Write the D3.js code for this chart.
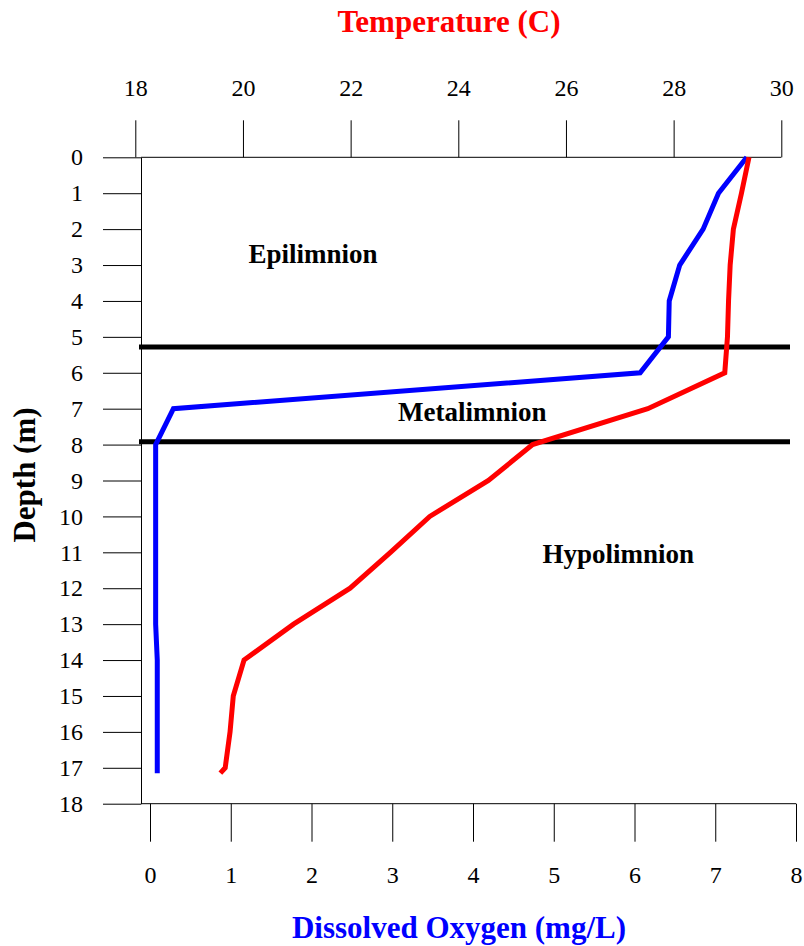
<!DOCTYPE html>
<html>
<head>
<meta charset="utf-8">
<script src="https://cdn.jsdelivr.net/npm/d3@7"></script>
<style>
  body { margin: 0; background: #fff; }
  #chart text { font-family: "Liberation Serif", Tinos, "Times New Roman", Times, "DejaVu Serif", serif !important; }
</style>
</head>
<body>
<div id="chart"></div>
<script>
// profile readings, one entry per depth
const depths      = [0, 1, 2, 3, 4, 5, 6, 7, 8, 9, 10, 11, 12, 13, 14, 15, 16, 17, 17.15]
const oxygen      = [7.39, 7.04, 6.85, 6.56, 6.43, 6.42, 6.07, 0.29, 0.07, 0.07, 0.07, 0.07, 0.07, 0.07, 0.09, 0.09, 0.09, 0.09, 0.09]
const temperature = [29.4, 29.26, 29.11, 29.05, 29.02, 29.0, 28.95, 27.52, 25.38, 24.56, 23.47, 22.74, 21.99, 20.94, 20.02, 19.82, 19.76, 19.67, 19.58]

const tempTicks   = [18, 20, 22, 24, 26, 28, 30]
const oxygenTicks = [0, 1, 2, 3, 4, 5, 6, 7, 8]
const depthTicks  = d3.range(0, 19)

// thermocline boundaries (m)
const layerBounds = [5.28, 7.92]
const layerNames  = ['Epilimnion', 'Metalimnion', 'Hypolimnion']

var width   = 804,
    height  = 946,
    axisX   = 141,
    tickLen = 37,
    lineW   = 5

const svg = d3.select('#chart')
  .append('svg')
  .attr('width', width)
  .attr('height', height)

var scale = {}
scale.temp = d3.scaleLinear().domain([18, 30]).range([135.3, 781.3])
scale.oxy = d3.scaleLinear().domain([0, 8]).range([150, 796])
scale.depth = d3.scaleLinear().domain([0, 18]).range([157.3, 803.7])

const plotTop = scale.depth(0),
      plotBottom = scale.depth(18)

// top axis - temperature
const tempAxis = svg.append('g')
  .attr('transform', `translate(0, ${plotTop})`)
  .call(d3.axisTop(scale.temp).tickValues(tempTicks).tickSize(tickLen).tickSizeOuter(0).tickPadding(24))
tempAxis.select('.domain').remove()

// bottom axis - dissolved oxygen
const oxyAxis = svg.append('g')
  .attr('transform', `translate(0, ${plotBottom})`)
  .call(d3.axisBottom(scale.oxy).tickValues(oxygenTicks).tickSize(tickLen + 1).tickSizeOuter(0).tickPadding(24))
oxyAxis.select('.domain').remove()

// left axis - depth
const depthAxis = svg.append('g')
  .attr('transform', `translate(${axisX}, 0)`)
  .call(d3.axisLeft(scale.depth).tickValues(depthTicks).tickSize(tickLen + 1).tickSizeOuter(0).tickPadding(20))

svg.selectAll('.tick text')
  .attr('font-size', 24)
  .attr('fill', '#000')

svg.selectAll('.tick line, .domain')
  .attr('stroke', '#000')

// frame lines along top and bottom
svg.append('line')
  .attr('x1', axisX).attr('x2', scale.temp(30))
  .attr('y1', plotTop).attr('y2', plotTop)
  .attr('stroke', '#000')
svg.append('line')
  .attr('x1', axisX).attr('x2', scale.oxy(8))
  .attr('y1', plotBottom).attr('y2', plotBottom)
  .attr('stroke', '#000')

// layer boundaries
svg.selectAll('line.bound')
  .data(layerBounds)
  .enter()
  .append('line')
    .attr('class', 'bound')
    .attr('x1', axisX - 2)
    .attr('x2', 790)
    .attr('y1', d => scale.depth(d))
    .attr('y2', d => scale.depth(d))
    .attr('stroke', '#000')
    .attr('stroke-width', lineW)

// profiles
const rows = depths.map((d, i) => ({ depth: d, oxy: oxygen[i], temp: temperature[i] }))

svg.append('path')
  .datum(rows)
  .attr('fill', 'none')
  .attr('stroke', '#0000ff')
  .attr('stroke-width', lineW)
  .attr('stroke-linejoin', 'miter')
  .attr('d', d3.line().x(d => scale.oxy(d.oxy)).y(d => scale.depth(d.depth)))

svg.append('path')
  .datum(rows)
  .attr('fill', 'none')
  .attr('stroke', '#ff0000')
  .attr('stroke-width', lineW)
  .attr('stroke-linejoin', 'miter')
  .attr('d', d3.line().x(d => scale.temp(d.temp)).y(d => scale.depth(d.depth)))

// layer names, placed in oxygen / depth units
const labelSpots = [[2.02, 2.93], [3.99, 7.35], [5.8, 11.3]]
svg.selectAll('text.layer')
  .data(layerNames)
  .enter()
  .append('text')
    .attr('class', 'layer')
    .attr('x', (d, i) => scale.oxy(labelSpots[i][0]))
    .attr('y', (d, i) => scale.depth(labelSpots[i][1]))
    .attr('text-anchor', 'middle')
    .attr('font-size', 27)
    .attr('font-weight', 'bold')
    .text(d => d)

// axis titles
svg.append('text')
  .attr('x', 449)
  .attr('y', 32)
  .attr('text-anchor', 'middle')
  .attr('font-size', 31)
  .attr('font-weight', 'bold')
  .attr('fill', '#ff0000')
  .text('Temperature (C)')

svg.append('text')
  .attr('x', 459)
  .attr('y', 938)
  .attr('text-anchor', 'middle')
  .attr('font-size', 31)
  .attr('font-weight', 'bold')
  .attr('fill', '#0000ff')
  .text('Dissolved Oxygen (mg/L)')

svg.append('text')
  .attr('transform', 'translate(35, 475) rotate(-90)')
  .attr('text-anchor', 'middle')
  .attr('font-size', 31)
  .attr('font-weight', 'bold')
  .attr('fill', '#000')
  .text('Depth (m)')
</script>
</body>
</html>
